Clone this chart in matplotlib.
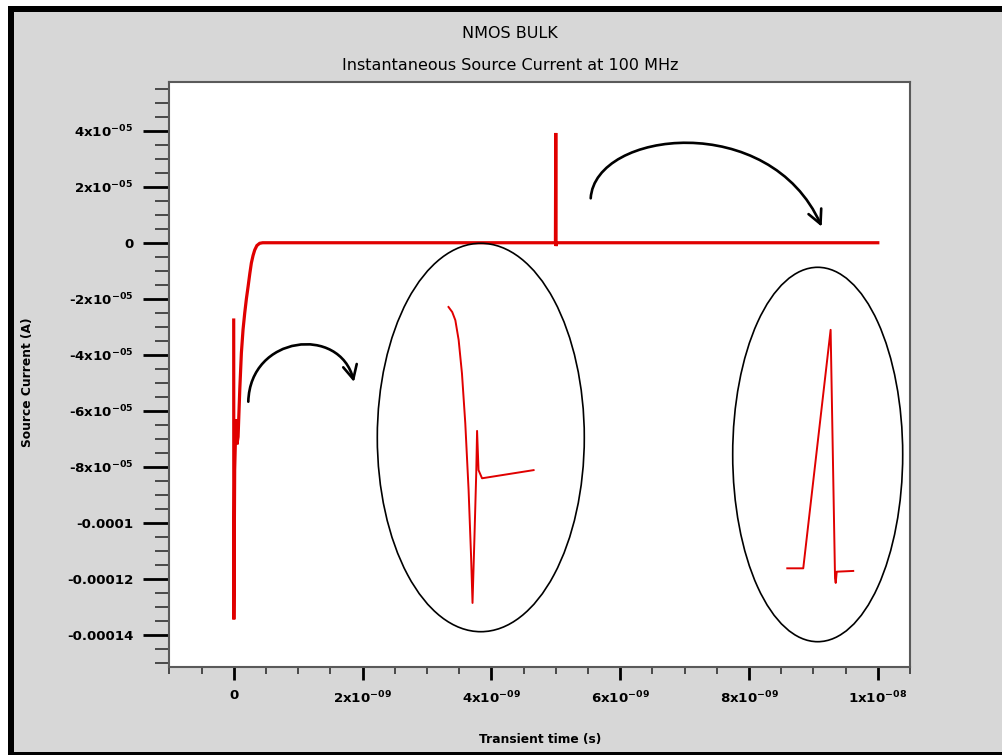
import matplotlib
matplotlib.use("Agg")
import matplotlib.pyplot as plt
from matplotlib.patches import Rectangle, Ellipse, FancyArrowPatch
from matplotlib.path import Path
from matplotlib.ticker import FixedLocator, MultipleLocator, FixedFormatter

plt.rcParams['font.family'] = ['DejaVu Sans']
plt.rcParams['mathtext.fontset'] = 'dejavusans'
plt.rcParams['mathtext.default'] = 'bf'

# ---------------- data ----------------
time_ns = [0.0, 0.002, 0.015, 0.035, 0.05, 0.068, 0.095, 0.119, 0.145, 0.171, 0.197,
           0.223, 0.25, 0.274, 0.3, 0.326, 0.36, 0.403, 0.45, 4.995, 5.0, 5.004,
           5.008, 5.015, 10.0]
current_uA = [-27.6, -134.5, -81.0, -63.0, -72.0, -69.3, -52.0, -39.4, -31.0, -25.1, -20.0,
              -15.7, -11.0, -7.25, -4.6, -2.6, -1.0, -0.2, 0.0, 0.0, 39.2, -1.2,
              0.0, 0.0, 0.0]

y_ticks = [-1.4e-4, -1.2e-4, -1e-4, -8e-5, -6e-5, -4e-5, -2e-5, 0, 2e-5, 4e-5]
y_labels = ["-0.00014", "-0.00012", "-0.0001", "-8x10$^{-05}$", "-6x10$^{-05}$",
            "-4x10$^{-05}$", "-2x10$^{-05}$", "0", "2x10$^{-05}$", "4x10$^{-05}$"]
x_ticks = [0, 2e-9, 4e-9, 6e-9, 8e-9, 1e-8]
x_labels = ["0", "2x10$^{-09}$", "4x10$^{-09}$", "6x10$^{-09}$", "8x10$^{-09}$", "1x10$^{-08}$"]

# zoomed insets (normalised inset coordinates)
inset1_u = [0.344, 0.362, 0.377, 0.393, 0.409, 0.425, 0.441, 0.453, 0.460, 0.469, 0.478,
            0.482, 0.489, 0.506, 0.755]
inset1_v = [0.836, 0.823, 0.802, 0.751, 0.665, 0.537, 0.365, 0.194, 0.074, 0.237, 0.409,
            0.517, 0.416, 0.395, 0.416]
inset2_u = [0.321, 0.415, 0.576, 0.602, 0.606, 0.612, 0.709]
inset2_v = [0.196, 0.196, 0.833, 0.169, 0.157, 0.187, 0.189]

W, H = 1003, 755
RED = '#e00000'
GRAY = '#d7d7d7'

fig = plt.figure(figsize=(W / 100, H / 100), dpi=100, facecolor='white')

def fx(px):
    return px / W

def fy(py):
    return 1 - py / H

# frame
fig.patches.append(Rectangle((fx(8), 0), 1, fy(6), transform=fig.transFigure,
                             facecolor='black', edgecolor='none', zorder=-10))
fig.patches.append(Rectangle((fx(14), fy(752)), 1, fy(12) - fy(752), transform=fig.transFigure,
                             facecolor=GRAY, edgecolor='none', zorder=-9))

ax = fig.add_axes([fx(169.3), fy(667), fx(910) - fx(169.3), fy(82) - fy(667)])
ax.set_facecolor('white')

t = [v * 1e-9 for v in time_ns]
i = [v * 1e-6 for v in current_uA]
ax.plot(t, i, color=RED, lw=2.3, solid_joinstyle='miter')

ax.set_xlim(-1e-9, 1.05e-8)
ax.set_ylim(-1.515e-4, 5.74e-5)

ax.yaxis.set_major_locator(FixedLocator(y_ticks))
ax.yaxis.set_major_formatter(FixedFormatter(y_labels))
ax.yaxis.set_minor_locator(MultipleLocator(5e-6))
ax.xaxis.set_major_locator(FixedLocator(x_ticks))
ax.xaxis.set_major_formatter(FixedFormatter(x_labels))
ax.xaxis.set_minor_locator(MultipleLocator(5e-10))

ax.tick_params(axis='y', which='major', direction='out', length=19, width=2.0,
               color='black', pad=7, labelsize=9.6)
ax.tick_params(axis='y', which='minor', direction='out', length=10, width=1.1, color='#222222')
ax.tick_params(axis='x', which='major', direction='out', length=9, width=2.0,
               color='black', pad=7, labelsize=9.6)
ax.tick_params(axis='x', which='minor', direction='out', length=5, width=1.1, color='#222222')
for lab in ax.get_xticklabels() + ax.get_yticklabels():
    lab.set_fontweight('bold')

for s in ax.spines.values():
    s.set_color('#5a5a5a')
    s.set_linewidth(1.5)

# titles / labels
fig.text(fx(510), fy(33), "NMOS BULK", ha='center', va='center', fontsize=11.5)
fig.text(fx(510), fy(65), "Instantaneous Source Current at 100 MHz", ha='center',
         va='center', fontsize=11.5)
fig.text(fx(540), fy(739), "Transient time (s)", ha='center', va='center',
         fontsize=8.8, fontweight='bold')
fig.text(fx(28), fy(382), "Source Current (A)", ha='center', va='center',
         rotation=90, fontsize=8.8, fontweight='bold')

# insets
def make_inset(x0, y0, x1, y1, u, v):
    ia = fig.add_axes([fx(x0), fy(y1), fx(x1) - fx(x0), fy(y0) - fy(y1)])
    ia.set_xlim(0, 1)
    ia.set_ylim(0, 1)
    ia.axis('off')
    ia.patch.set_alpha(0)
    ia.add_patch(Ellipse((0.5, 0.5), 1, 1, transform=ia.transAxes, facecolor='none',
                         edgecolor='black', lw=1.2, clip_on=False))
    ia.plot(u, v, color=RED, lw=1.4, clip_on=False)
    return ia

make_inset(377.3, 243.3, 584.3, 631.7, inset1_u, inset1_v)
make_inset(732.7, 267.3, 902.7, 641.7, inset2_u, inset2_v)

# curved arrows
def curved_arrow(p0, p1, p2, p3):
    pts = [(fx(x), fy(y)) for (x, y) in (p0, p1, p2, p3)]
    path = Path(pts, [Path.MOVETO, Path.CURVE4, Path.CURVE4, Path.CURVE4])
    arr = FancyArrowPatch(path=path, transform=fig.transFigure,
                          arrowstyle='->,head_length=10,head_width=5',
                          color='black', lw=1.9, mutation_scale=1)
    fig.patches.append(arr)

curved_arrow((248.3, 401.7), (250, 335), (340, 325), (354, 382))
curved_arrow((590.7, 198.3), (595, 130), (770, 110), (821.7, 226.7))

fig.savefig("out.png", dpi=100, facecolor=fig.get_facecolor())
